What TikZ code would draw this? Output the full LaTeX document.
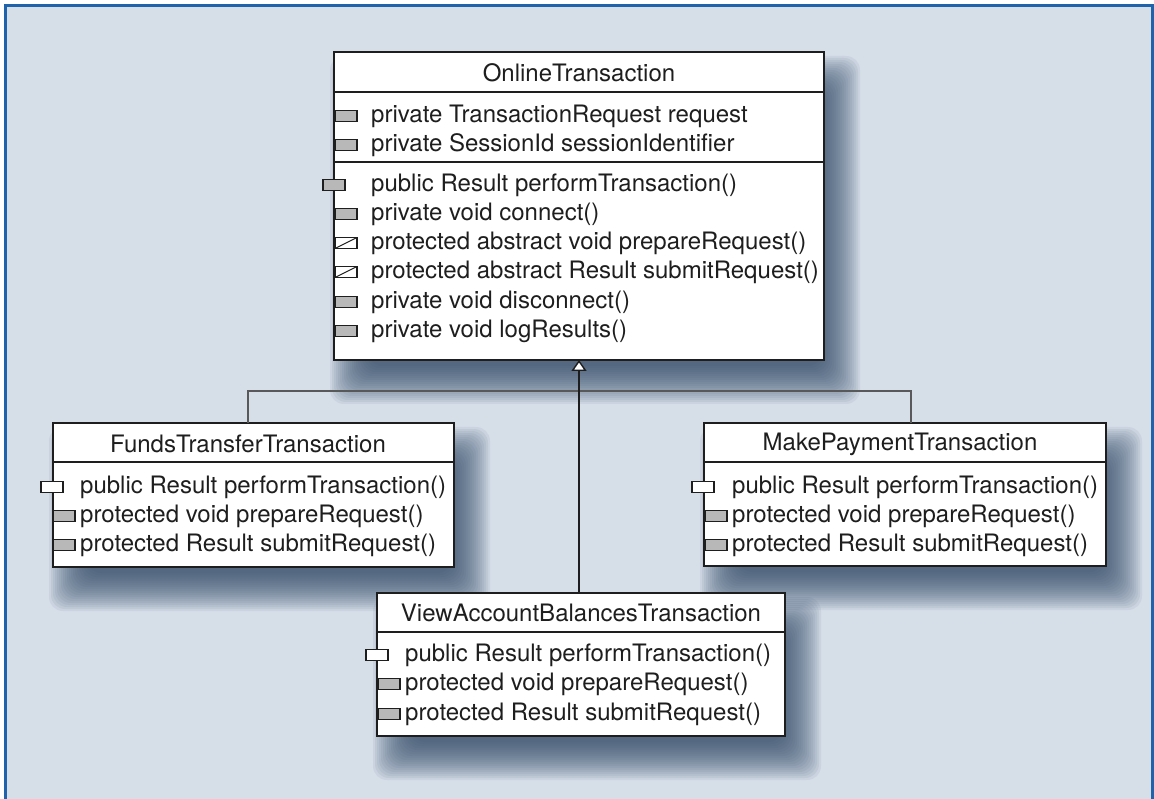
\documentclass[tikz,border=0pt]{standalone}
\usepackage{fontspec}
\setmainfont{TeX Gyre Heros}
\usetikzlibrary{arrows.meta,backgrounds}

\definecolor{pagefill}{RGB}{214,222,232}
\definecolor{frameblue}{RGB}{31,99,172}
\definecolor{shadowc}{RGB}{52,76,106}
\definecolor{inkc}{RGB}{30,30,30}
\definecolor{iconfill}{RGB}{184,184,184}

\newcommand*{\shadowdx}{16}
\newcommand*{\shadowdy}{24}

% soft shadow behind a class box
\newcommand*{\castshadow}[1]{%
	\foreach \t in {-20,-18,...,18}
		\fill[shadowc,opacity=0.07,rounded corners=14pt]
			([shift={(\shadowdx+\t,\shadowdy+\t)}]#1.north west) rectangle
			([shift={(\shadowdx-\t,\shadowdy-\t)}]#1.south east);
}

% visibility icons
\newcommand*{\opicon}[3]{\draw[#1] (#2,#3-5.5) rectangle (#2+22,#3+5.5);}
\newcommand*{\absicon}[2]{%
	\draw[whitebox] (#1,#2-5.5) rectangle (#1+22,#2+5.5);
	\draw[inkc,line width=1pt] (#1,#2+5.5) -- (#1+22,#2-5.5);}

\begin{document}
\begin{tikzpicture}
[
	x=1pt, y=-1pt,
	classbox/.style={draw=inkc,line width=2.4pt,fill=white,anchor=north west,inner sep=0pt,outer sep=0pt},
	classname/.style={font=\fontsize{24}{28}\selectfont,text=inkc,inner sep=0pt},
	member/.style={font=\fontsize{24}{28}\selectfont,text=inkc,anchor=west,inner sep=0pt},
	divider/.style={draw=inkc,line width=1.6pt},
	graybox/.style={draw=inkc,line width=1.4pt,fill=iconfill},
	whitebox/.style={draw=inkc,line width=1.4pt,fill=white},
	inherit/.style={draw=inkc,line width=1.6pt},
	bus/.style={draw=black!65,line width=1.6pt}
]
	\useasboundingbox (0,0) rectangle (1154,799);

	% class boxes
	\node[classbox,minimum width=490pt,minimum height=308pt] (online) at (334,52) {};
	\node[classbox,minimum width=401pt,minimum height=144pt] (funds) at (53,423) {};
	\node[classbox,minimum width=402pt,minimum height=143pt] (pay) at (704,423) {};
	\node[classbox,minimum width=408pt,minimum height=143pt] (view) at (377,593) {};

	\begin{scope}[on background layer]
		\fill[white] (0,0) rectangle (1154,799);
		\fill[pagefill] (5,5) rectangle (1154,799);
		\draw[frameblue,line width=3pt] (5.5,799) -- (5.5,5.5) -- (1152.5,5.5) -- (1152.5,799);
		\castshadow{online}
		\castshadow{funds}
		\castshadow{pay}
		\castshadow{view}
	\end{scope}

	% OnlineTransaction
	\node[classname] (online-name) at (579,73) {OnlineTransaction};
	\draw[divider] (online.west |- 0,92) -- (online.east |- 0,92);
	\draw[divider] (online.west |- 0,162) -- (online.east |- 0,162);
	\opicon{graybox}{335}{116}
	\node[member] (online-a1) at (371,116) {private TransactionRequest request};
	\opicon{graybox}{335}{145}
	\node[member] (online-a2) at (371,145) {private SessionId sessionIdentifier};
	\opicon{graybox}{323}{185}
	\node[member] (online-m1) at (371,185) {public Result performTransaction()};
	\opicon{graybox}{335}{214}
	\node[member] (online-m2) at (371,214) {private void connect()};
	\absicon{335}{243}
	\node[member] (online-m3) at (371,243) {protected abstract void prepareRequest()};
	\absicon{335}{272}
	\node[member] (online-m4) at (371,272) {protected abstract Result submitRequest()};
	\opicon{graybox}{335}{302}
	\node[member] (online-m5) at (371,302) {private void disconnect()};
	\opicon{graybox}{335}{331}
	\node[member] (online-m6) at (371,331) {private void logResults()};

	% FundsTransferTransaction
	\node[classname] (funds-name) at (248,444) {FundsTransferTransaction};
	\draw[divider] (funds.west |- 0,462) -- (funds.east |- 0,462);
	\opicon{whitebox}{41}{487}
	\node[member] (funds-m1) at (80,487) {public Result performTransaction()};
	\opicon{graybox}{53}{516}
	\node[member] (funds-m2) at (80,516) {protected void prepareRequest()};
	\opicon{graybox}{53}{545}
	\node[member] (funds-m3) at (80,545) {protected Result submitRequest()};

	% MakePaymentTransaction
	\node[classname] (pay-name) at (900,444) {MakePaymentTransaction};
	\draw[divider] (pay.west |- 0,462) -- (pay.east |- 0,462);
	\opicon{whitebox}{692}{487}
	\node[member] (pay-m1) at (732,487) {public Result performTransaction()};
	\opicon{graybox}{705}{516}
	\node[member] (pay-m2) at (732,516) {protected void prepareRequest()};
	\opicon{graybox}{705}{545}
	\node[member] (pay-m3) at (732,545) {protected Result submitRequest()};

	% ViewAccountBalancesTransaction
	\node[classname] (view-name) at (581,613) {ViewAccountBalancesTransaction};
	\draw[divider] (view.west |- 0,632) -- (view.east |- 0,632);
	\opicon{whitebox}{366}{655}
	\node[member] (view-m1) at (405,655) {public Result performTransaction()};
	\opicon{graybox}{378}{684}
	\node[member] (view-m2) at (405,684) {protected void prepareRequest()};
	\opicon{graybox}{378}{714}
	\node[member] (view-m3) at (405,714) {protected Result submitRequest()};

	% generalisation
	\coordinate (busL) at (248,391);
	\coordinate (busR) at (911,391);
	\draw[bus] (funds.north -| busL) -- (busL) -- (busR) -- (pay.north -| busR);
	\draw[inherit,-{Triangle[open,fill=white,length=11pt,width=15pt,line width=1.4pt]}]
		(online.south |- view.north) -- (online.south);

\end{tikzpicture}
\end{document}
